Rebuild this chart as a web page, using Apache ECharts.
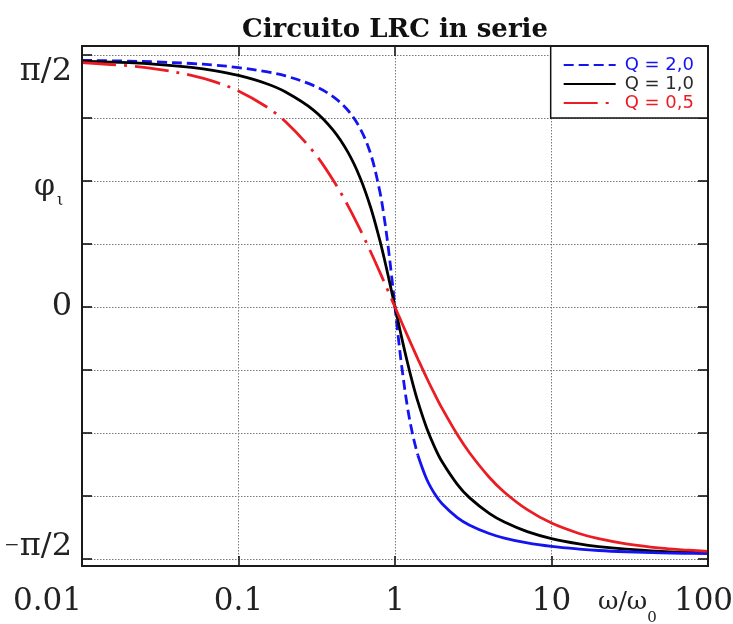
<!DOCTYPE html>
<html>
<head>
<meta charset="utf-8">
<title>Circuito LRC in serie</title>
<script src="https://cdn.jsdelivr.net/npm/echarts@6/dist/echarts.min.js"></script>
<style>
  html, body { margin: 0; padding: 0; background: #ffffff; }
  #chart { width: 733px; height: 624px; }
</style>
</head>
<body>
<div id="chart"></div>
<script>
// Normalised angular frequency ω/ω0 (log scale)
const omegaRatio = [0.01, 0.02, 0.03, 0.05, 0.07, 0.1, 0.15, 0.2, 0.3, 0.4, 0.5, 0.6, 0.7, 0.8, 0.85, 0.9, 0.95, 1,
  1.05, 1.1, 1.2, 1.3, 1.4, 1.6, 1.8, 2, 2.5, 3, 4, 5, 7, 10, 15, 20, 30, 50, 70, 100];

// Phase of the current (rad) for each quality factor
const phiQ20 = [1.566, 1.561, 1.556, 1.546, 1.536, 1.520, 1.494, 1.467, 1.407, 1.337, 1.249, 1.132, 0.970, 0.733, 0.578, 0.400, 0.202, 0,
  -0.193, -0.365, -0.633, -0.815, -0.941, -1.097, -1.189, -1.249, -1.337, -1.385, -1.438, -1.467, -1.498, -1.520, -1.537, -1.546, -1.554, -1.561, -1.564, -1.566];
const phiQ10 = [1.561, 1.551, 1.541, 1.521, 1.501, 1.470, 1.419, 1.365, 1.252, 1.126, 0.983, 0.818, 0.630, 0.423, 0.316, 0.208, 0.102, 0,
  -0.097, -0.189, -0.351, -0.488, -0.601, -0.773, -0.894, -0.983, -1.126, -1.212, -1.310, -1.365, -1.426, -1.470, -1.504, -1.521, -1.537, -1.551, -1.557, -1.561];
const phiQ05 = [1.551, 1.531, 1.511, 1.471, 1.431, 1.372, 1.273, 1.176, 0.988, 0.810, 0.644, 0.490, 0.349, 0.221, 0.162, 0.105, 0.051, 0,
  -0.049, -0.095, -0.181, -0.259, -0.330, -0.454, -0.557, -0.644, -0.810, -0.927, -1.081, -1.176, -1.287, -1.372, -1.438, -1.471, -1.504, -1.531, -1.542, -1.551];

const seriesNames = ['Q = 2,0', 'Q = 1,0', 'Q = 0,5'];
const xTickLabels = ['0.01', '0.1', '1', '10', '100'];
const yTickLabels = ['−π/2', '0', 'π/2'];
const yLabelValues = [-Math.PI / 2, 0, Math.PI / 2];

// Layout of the plotting frame (px)
const L = 82, R = 708, FRAME_TOP = 46, FRAME_BOTTOM = 566;
const GRID_TOP = 55, GRID_BOTTOM = 559;
const W = 733, H = 624;

const BLUE = '#1414f0', BLACK = '#000000', RED = '#ec1c24';
const SERIF = 'DejaVu Serif';

function pairs(xs, ys, from, to) {
  const out = [];
  for (let i = 0; i < xs.length; i++) {
    if (xs[i] >= from && xs[i] <= to) out.push([xs[i], ys[i]]);
  }
  return out;
}

// the dashed curves turn solid past a given frequency
const BLUE_DASH_END = 1.4, RED_DASH_END = 1;
const LW = 2.8;

const base = { type: 'line', showSymbol: false, symbol: 'circle', symbolSize: 0, smooth: 0.35, animation: false, z: 3 };

const series = [
  Object.assign({}, base, { name: seriesNames[0], data: pairs(omegaRatio, phiQ20, 0, BLUE_DASH_END),
    lineStyle: { color: BLUE, width: LW, type: [10, 5] }, itemStyle: { color: BLUE } }),
  Object.assign({}, base, { name: seriesNames[1], data: pairs(omegaRatio, phiQ10, 0, 1000),
    lineStyle: { color: BLACK, width: LW }, itemStyle: { color: BLACK } }),
  Object.assign({}, base, { name: seriesNames[2], data: pairs(omegaRatio, phiQ05, 0, RED_DASH_END),
    lineStyle: { color: RED, width: LW, type: [34, 8, 3, 8] }, itemStyle: { color: RED } }),
  Object.assign({}, base, { name: seriesNames[0] + ' ', data: pairs(omegaRatio, phiQ20, BLUE_DASH_END, 1000),
    lineStyle: { color: BLUE, width: LW }, itemStyle: { color: BLUE } }),
  Object.assign({}, base, { name: seriesNames[2] + ' ', data: pairs(omegaRatio, phiQ05, RED_DASH_END, 1000),
    lineStyle: { color: RED, width: LW }, itemStyle: { color: RED } })
];

const gridLine = { show: true, lineStyle: { color: '#7a7a7a', width: 1, type: [1.5, 1.5] } };
const tick = { show: true, inside: true, length: 10, lineStyle: { color: '#111', width: 1.6 } };

// y labels: π/2 sits a little below its tick, −π/2 a little above
function yLabel(v) {
  let best = 0;
  for (let i = 1; i < yLabelValues.length; i++) {
    if (Math.abs(yLabelValues[i] - v) < Math.abs(yLabelValues[best] - v)) best = i;
  }
  const t = yTickLabels[best];
  if (v > 0.1) return '{dn|' + t + '}';
  if (v < -0.1) return '{mi|' + t.charAt(0) + '}{up|' + t.slice(1) + '}';
  return t;
}

const labelFont = { fontFamily: SERIF, fontSize: 31, color: '#222' };

const chart = echarts.init(document.getElementById('chart'), null, { renderer: 'canvas' });
chart.setOption({
  backgroundColor: '#ffffff',
  animation: false,
  title: {
    text: 'Circuito LRC in serie',
    left: (L + R) / 2 - 5, top: 12, textAlign: 'center',
    textStyle: { fontFamily: SERIF, fontWeight: 'bold', fontSize: 26, color: '#111' }
  },
  grid: {
    left: L, right: W - R, top: GRID_TOP, bottom: H - GRID_BOTTOM,
    containLabel: false, outerBoundsMode: 'none'
  },
  legend: {
    orient: 'vertical', right: W - R, top: FRAME_TOP, align: 'left',
    padding: [10, 14, 6, 12], itemGap: 1,
    backgroundColor: '#ffffff', borderColor: '#111', borderWidth: 1.5,
    itemWidth: 52, itemHeight: 14,
    itemStyle: { opacity: 0 },
    data: [
      { name: seriesNames[0], textStyle: { color: BLUE } },
      { name: seriesNames[1], textStyle: { color: '#2a2a2a' } },
      { name: seriesNames[2], textStyle: { color: RED } }
    ],
    textStyle: { fontFamily: 'DejaVu Sans', fontSize: 18, lineHeight: 18, padding: [0, 0, 0, 4] }
  },
  xAxis: [
    {
      type: 'log', logBase: 10, min: 0.01, max: 100, position: 'bottom', offset: FRAME_BOTTOM - GRID_BOTTOM,
      axisLine: { show: false, onZero: false }, axisTick: tick, minorTick: { show: false }, splitLine: gridLine,
      axisLabel: Object.assign({
        margin: 20, alignMinLabel: 'right', alignMaxLabel: 'center',
        formatter: v => {
          const k = Math.round(Math.log10(v)) + 2;
          const t = xTickLabels[k] || '';
          return k === xTickLabels.length - 1 ? '{mx|' + t + '}' : t;
        },
        rich: { mx: Object.assign({ padding: [0, 9, 0, 0] }, labelFont) }
      }, labelFont)
    },
    {
      type: 'log', logBase: 10, min: 0.01, max: 100, position: 'top', offset: GRID_TOP - FRAME_TOP,
      axisLine: { show: false, onZero: false }, axisTick: tick, splitLine: { show: false }, axisLabel: { show: false }
    }
  ],
  yAxis: [
    {
      type: 'value', min: -1.6, max: 1.6, interval: 0.4, position: 'left',
      axisLine: { show: false, onZero: false }, axisTick: tick, splitLine: gridLine,
      axisLabel: {
        customValues: yLabelValues, margin: 10,
        fontFamily: SERIF, fontSize: 32, color: '#222',
        formatter: yLabel,
        rich: {
          dn: { fontFamily: SERIF, fontSize: 32, color: '#222', padding: [25, 0, 0, 0] },
          up: { fontFamily: SERIF, fontSize: 32, color: '#222', padding: [0, 0, 16, 0] },
          mi: { fontFamily: 'Liberation Serif', fontSize: 25, color: '#222', padding: [0, 1, 16, 0] }
        }
      }
    },
    {
      type: 'value', min: -1.6, max: 1.6, interval: 0.4, position: 'right',
      axisLine: { show: false, onZero: false }, axisTick: tick, splitLine: { show: false }, axisLabel: { show: false }
    }
  ],
  graphic: [
    {
      type: 'rect', z: 10, silent: true,
      shape: { x: L, y: FRAME_TOP, width: R - L, height: FRAME_BOTTOM - FRAME_TOP },
      style: { fill: null, stroke: '#1a1a1a', lineWidth: 2 }
    },
    {
      type: 'text', left: 34, top: 172, z: 10,
      style: {
        text: '{a|φ}{b|ι}',
        rich: {
          a: { fontFamily: SERIF, fontSize: 30, fill: '#222' },
          b: { fontFamily: SERIF, fontSize: 16, fill: '#222', padding: [28, 0, 0, 2] }
        }
      }
    },
    {
      type: 'text', left: 598, top: 590, z: 10,
      style: {
        text: '{a|ω/ω}{b|0}',
        rich: {
          a: { fontFamily: SERIF, fontSize: 25, fill: '#222' },
          b: { fontFamily: SERIF, fontSize: 15, fill: '#222', padding: [32, 0, 0, 0] }
        }
      }
    }
  ],
  series: series
});
</script>
</body>
</html>
